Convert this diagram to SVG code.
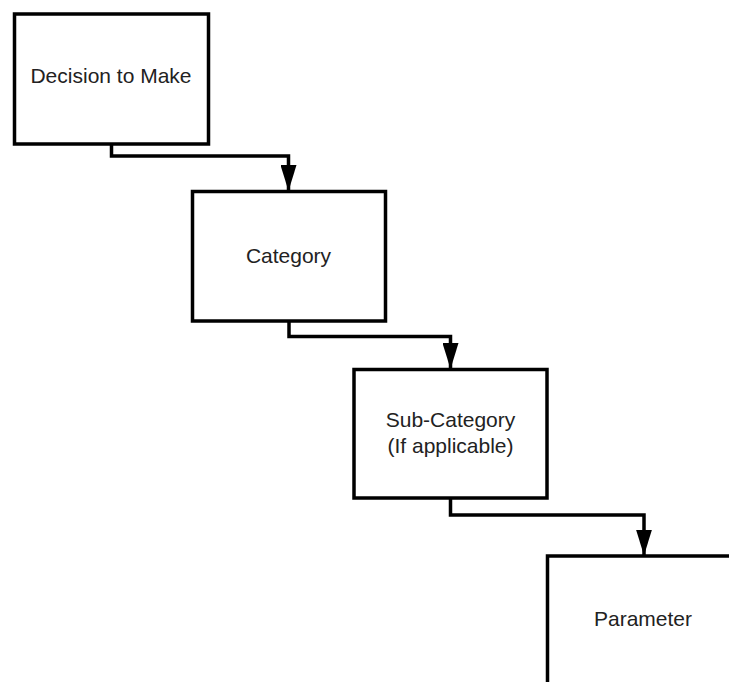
<svg xmlns="http://www.w3.org/2000/svg" width="729" height="682" viewBox="0 0 729 682">
<style>
.box{fill:#fff;stroke:#000;stroke-width:3.5}
.lbl{font-family:"Liberation Sans",Arial,sans-serif;font-size:21px;fill:#222;text-anchor:middle}
.conn{fill:none;stroke:#000;stroke-width:3.5}
</style>
<defs>
<marker id="arr" viewBox="0 -8 26 16" refX="26" refY="0" markerWidth="26" markerHeight="16" markerUnits="userSpaceOnUse" orient="auto">
<path d="M0,-8 L26,0 L0,8 z" fill="#000"/>
</marker>
</defs>
<rect width="729" height="682" fill="#fff"/>
<g id="connectors">
<path class="conn" d="M111.5 144 V156 H288.5 V191" marker-end="url(#arr)"/>
<path class="conn" d="M289 321 V336.5 H450.5 V369" marker-end="url(#arr)"/>
<path class="conn" d="M450.5 498 V515 H644 V555.5" marker-end="url(#arr)"/>
</g>
<g id="n1">
<rect class="box" x="14.5" y="14" width="194" height="130"/>
<text class="lbl" x="111" y="83">Decision to Make</text>
</g>
<g id="n2">
<rect class="box" x="192.5" y="191.5" width="193" height="129.5"/>
<text class="lbl" x="288.5" y="263">Category</text>
</g>
<g id="n3">
<rect class="box" x="354" y="369.5" width="193" height="128.5"/>
<text class="lbl" x="450.5" y="426.5">Sub-Category</text>
<text class="lbl" x="450.5" y="452.5">(If applicable)</text>
</g>
<g id="n4">
<rect class="box" x="547.5" y="556" width="194" height="140"/>
<text class="lbl" x="643" y="626">Parameter</text>
</g>
</svg>
